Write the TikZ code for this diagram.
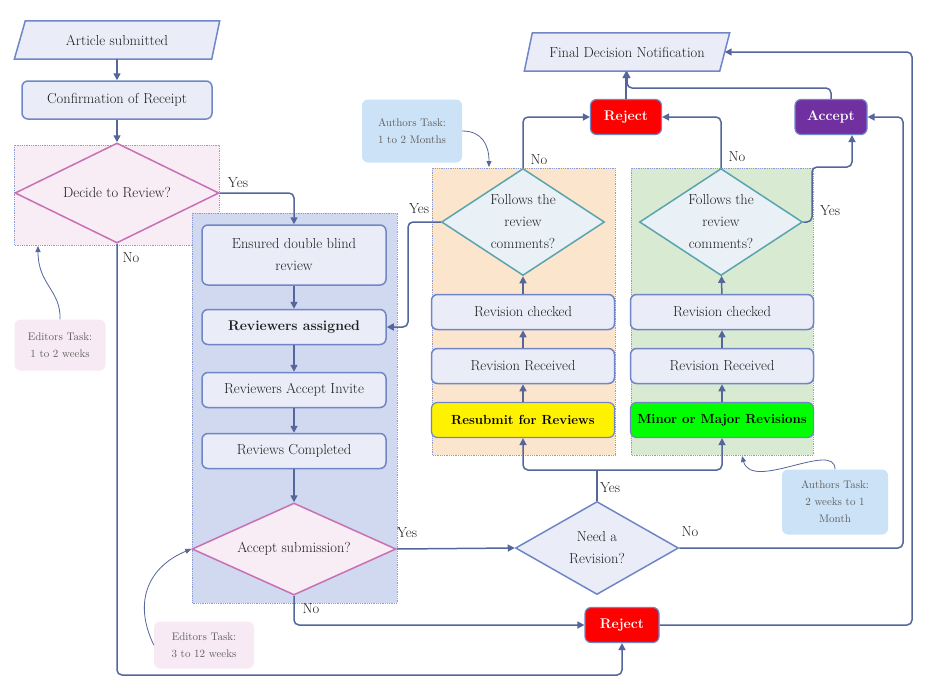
\documentclass[tikz,border=0pt]{standalone}
\usepackage{fontspec}
\setmainfont{Latin Modern Roman}
\usetikzlibrary{shapes.geometric,arrows.meta,calc}
\definecolor{boxfill}{RGB}{234,237,248}
\definecolor{boxdraw}{RGB}{112,134,198}
\definecolor{connc}{RGB}{84,102,156}
\definecolor{pinkfill}{RGB}{248,236,245}
\definecolor{pinkdraw}{RGB}{200,112,180}
\definecolor{bluereg}{RGB}{208,217,240}
\definecolor{orangereg}{RGB}{252,229,205}
\definecolor{greenreg}{RGB}{217,234,211}
\definecolor{tealdraw}{RGB}{90,164,174}
\definecolor{tealfill}{RGB}{233,241,246}
\definecolor{authfill}{RGB}{204,226,246}
\definecolor{edfill}{RGB}{248,234,244}
\definecolor{purp}{RGB}{112,48,160}
\definecolor{regdraw}{RGB}{140,155,210}
\definecolor{notegray}{RGB}{95,95,95}
\definecolor{txt}{RGB}{30,30,30}
\pgfdeclarelayer{bg}
\pgfsetlayers{bg,main}
\tikzset{
  basefont/.style={font=\fontsize{14.5}{22}\selectfont},
  stepbox/.style={draw=boxdraw, fill=boxfill, line width=1.5pt, rounded corners=6pt,
    minimum width=184pt, minimum height=35pt, inner sep=2pt, align=center, basefont, text=txt},
  parabox/.style={minimum width=205pt, minimum height=38pt, inner sep=0pt, basefont, text=txt},
  parashape/.style={draw=boxdraw, fill=boxfill, line width=1.5pt},
  colbox/.style={draw=boxdraw, line width=1.2pt, rounded corners=6pt, inner sep=2pt,
    minimum height=35pt, font=\fontsize{14}{18}\selectfont\bfseries},
  pinkdec/.style={diamond, draw=pinkdraw, fill=pinkfill, line width=1.5pt, inner sep=0pt,
    align=center, basefont, text=txt},
  tealdec/.style={diamond, draw=tealdraw, fill=tealfill, line width=1.5pt, inner sep=0pt,
    align=center, basefont, text=txt, aspect=1.5, minimum width=163pt, minimum height=107pt},
  bluedec/.style={diamond, draw=boxdraw, fill=boxfill, line width=1.5pt, inner sep=0pt,
    align=center, basefont, text=txt},
  region/.style={draw=regdraw, densely dotted, line width=0.8pt},
  arrowline/.style={draw=connc, line width=1.5pt, rounded corners=5pt,
    -{Triangle[length=7pt,width=7pt]}},
  plainline/.style={draw=connc, line width=1.5pt, rounded corners=5pt},
  annline/.style={draw=connc, line width=0.8pt, -{Triangle[length=6pt,width=5pt]}},
  notebox/.style={rounded corners=6pt, align=center, inner sep=2pt,
    font=\fontsize{11}{17}\selectfont, text=notegray},
  lbl/.style={inner sep=0pt, basefont, text=txt},
}
\begin{document}
\begin{tikzpicture}[x=1pt,y=-1pt]
\useasboundingbox (0,0) rectangle (936,680);

% regions
\begin{pgfonlayer}{bg}
\fill[white] (0,0) rectangle (936,680);
\path[region, fill=pinkfill] (14,145) rectangle (219,245);
\path[region, fill=bluereg] (192,213) rectangle (397,603);
\path[region, fill=orangereg] (432,168) rectangle (615,455);
\path[region, fill=greenreg] (631,168) rectangle (813,455);
\end{pgfonlayer}

% nodes
\node[parabox] (art) at (117,40) {Article submitted};
\node[parabox] (final) at (627,52) {Final Decision Notification};
\begin{pgfonlayer}{bg}
\path[parashape] ([xshift=11pt]art.north west) -- (art.north east) -- ([xshift=-8pt]art.south east) -- (art.south west) -- cycle;
\path[parashape] ([xshift=8pt]final.north west) -- (final.north east) -- ([xshift=-10pt]final.south east) -- (final.south west) -- cycle;
\end{pgfonlayer}

\node[stepbox, minimum width=190pt, minimum height=38pt] (conf) at (117,100) {Confirmation of Receipt};
\node[pinkdec, aspect=2, minimum width=204pt, minimum height=100pt] (decide) at (117,193) {Decide to Review?};

\node[stepbox, minimum height=60pt] (ens) at (294,255) {Ensured double blind\\review};
\node[stepbox, font=\fontsize{14}{18}\selectfont\bfseries] (ra) at (294,327) {Reviewers assigned};
\node[stepbox] (rai) at (294,390) {Reviewers Accept Invite};
\node[stepbox] (rc) at (294,451) {Reviews Completed};
\node[pinkdec, aspect=2.2, minimum width=204pt, minimum height=92pt] (accsub) at (294,549) {Accept submission?};

\node[bluedec, aspect=1.75, minimum width=163pt, minimum height=93pt] (needrev) at (597,548) {Need a\\Revision?};
\node[colbox, fill=red, text=white, minimum width=74pt] (rejB) at (622,625) {Reject};

\node[colbox, fill=yellow, text=black, minimum width=183pt, font=\fontsize{13.2}{16}\selectfont\bfseries] (resub) at (523,420) {Resubmit for Reviews};
\node[stepbox, minimum width=183pt] (recvO) at (523,366) {Revision Received};
\node[stepbox, minimum width=183pt] (chkO) at (523,312) {Revision checked};
\node[tealdec] (follO) at (523,222) {Follows the\\review\\comments?};

\node[colbox, fill=green, text=black, minimum width=183pt, font=\fontsize{13.2}{16}\selectfont\bfseries] (minor) at (722,420) {Minor or Major Revisions};
\node[stepbox, minimum width=183pt] (recvG) at (722,366) {Revision Received};
\node[stepbox, minimum width=183pt] (chkG) at (722,312) {Revision checked};
\node[tealdec] (follG) at (721,222) {Follows the\\review\\comments?};

\node[colbox, fill=red, text=white, minimum width=71pt] (rejT) at (626,117) {Reject};
\node[colbox, fill=purp, text=white, minimum width=72pt] (accept) at (831,117) {Accept};

% notes
\node[notebox, fill=edfill, minimum width=91pt, minimum height=51pt] (ed1) at (60,345) {Editors Task:\\1 to 2 weeks};
\node[notebox, fill=edfill, minimum width=100pt, minimum height=47pt] (ed2) at (204,645) {Editors Task:\\3 to 12 weeks};
\node[notebox, fill=authfill, minimum width=100pt, minimum height=63pt] (au1) at (412,131) {Authors Task:\\1 to 2 Months};
\node[notebox, fill=authfill, minimum width=106pt, minimum height=65pt] (au2) at (835,502) {Authors Task:\\2 weeks to 1\\Month};

% helper coordinates
\coordinate (nobot) at (117,675);
\coordinate (split) at (597,470);
\coordinate (rt1) at (903,548);
\coordinate (rt2) at (912,625);
\coordinate (yO) at (408,222);
\coordinate (yG1) at (812,222);
\coordinate (yG2) at (812,167);
\coordinate (merge) at (627,88);
\coordinate (tip1) at (38,246);
\coordinate (tipA) at (489,167);
\coordinate (tipB) at (742,456);

% connectors
\draw[arrowline] (art) -- (conf);
\draw[arrowline] (conf) -- (decide);
\draw[arrowline] (decide.east) -| (ens.north);
\draw[arrowline] (decide.south) -- (nobot) -| (rejB.south);
\draw[arrowline] (ens) -- (ra);
\draw[arrowline] (ra) -- (rai);
\draw[arrowline] (rai) -- (rc);
\draw[arrowline] (rc) -- (accsub);
\draw[arrowline] (accsub.east) -- (needrev.west);
\draw[arrowline] (accsub.south) |- (rejB.west);
\draw[plainline] (needrev.north) -- (split);
\draw[arrowline] (split) -| (resub.south);
\draw[arrowline] (split) -| (minor.south);
\draw[arrowline] (needrev.east) -- (rt1) |- (accept.east);
\draw[arrowline] (rejB.east) -- (rt2) |- ([xshift=-5pt]final.east);
\draw[arrowline] (resub) -- (recvO);
\draw[arrowline] (recvO) -- (chkO);
\draw[arrowline] (chkO) -- (follO);
\draw[arrowline] (minor) -- (recvG);
\draw[arrowline] (recvG) -- (chkG);
\draw[arrowline] (chkG) -- (follG);
\draw[arrowline] (follO.north) |- (rejT.west);
\draw[arrowline] (follG.north) |- (rejT.east);
\draw[arrowline] (follO.west) -- (yO) |- (ra.east);
\draw[arrowline] (follG.east) -- (yG1) -- (yG2) -| ([xshift=21pt]accept.south);
\draw[arrowline] (rejT.north) -- (rejT.north |- final.south);
\draw[arrowline] (accept.north) |- (merge) -- (merge |- final.south);

% annotation curves
\draw[annline] (ed1.north) .. controls (61,290) and (38,285) .. (tip1);
\draw[annline] (ed2.west) .. controls (132,600) and (150,566) .. (accsub.west);
\draw[annline] (au1.east) .. controls (482,131) and (489,145) .. (tipA);
\draw[annline] (au2.north) .. controls (835,440) and (752,492) .. (tipB);

% labels
\node[lbl] (l1) at (238,183) {Yes};
\node[lbl] (l2) at (131,258) {No};
\node[lbl] (l3) at (407,533) {Yes};
\node[lbl] (l4) at (311,609) {No};
\node[lbl] (l5) at (610,488) {Yes};
\node[lbl] (l6) at (690,532) {No};
\node[lbl] (l7) at (419,209) {Yes};
\node[lbl] (l8) at (539,160) {No};
\node[lbl] (l9) at (737,157) {No};
\node[lbl] (l10) at (830,211) {Yes};
\end{tikzpicture}
\end{document}
